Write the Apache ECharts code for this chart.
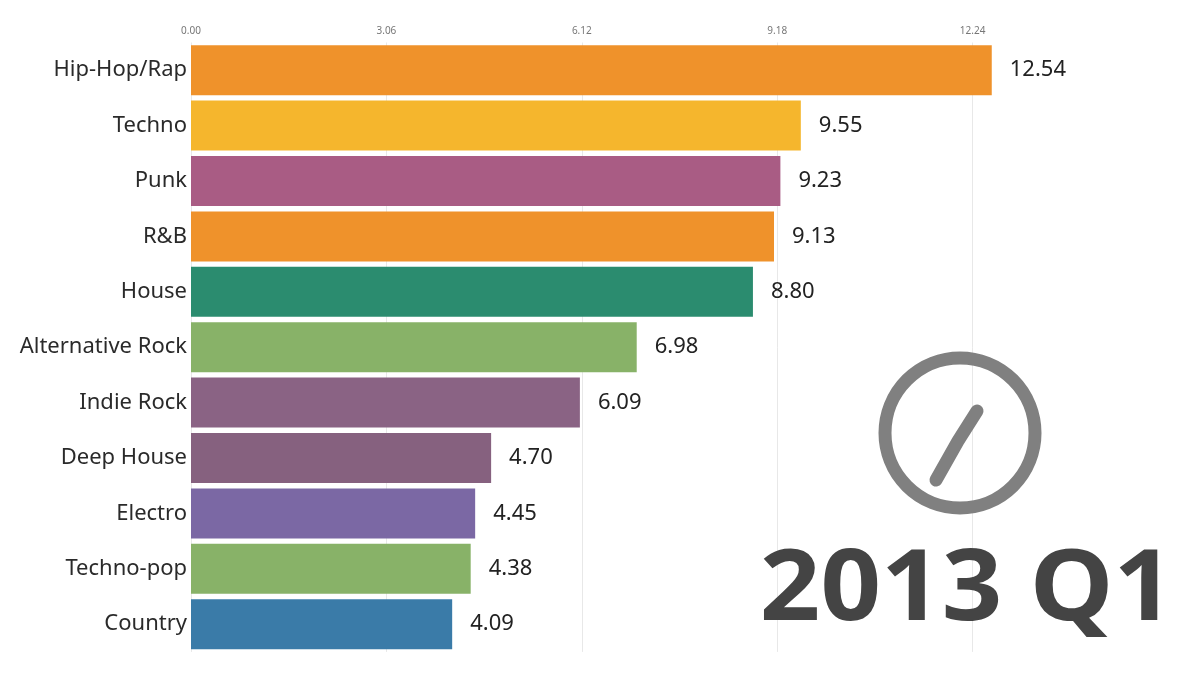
<!DOCTYPE html>
<html>
<head>
<meta charset="utf-8">
<style>html,body{margin:0;padding:0;background:#fff}#c{width:1200px;height:675px}</style>
<script src="https://cdn.jsdelivr.net/npm/echarts@6/dist/echarts.min.js"></script>
</head>
<body>
<div id="c"></div>
<script>
const genres = ['Hip-Hop/Rap','Techno','Punk','R&B','House','Alternative Rock','Indie Rock','Deep House','Electro','Techno-pop','Country'];
const shares = [12.54,9.55,9.23,9.13,8.80,6.98,6.09,4.70,4.45,4.38,4.09];
const barColors = ['#ef922b','#f5b62d','#a95c84','#ef922b','#2b8c6f','#88b268','#8a6384','#86617f','#7b68a4','#88b268','#3a7ba8'];
const tickStep = 3.06;
const axisMax = 15.3;
const periodLabel = '2013 Q1';

const chart = echarts.init(document.getElementById('c'), null, {renderer:'canvas'});
const fam = '"Noto Sans", sans-serif';
chart.setOption({
  animation:false,
  backgroundColor:'#ffffff',
  grid:{left:191,top:42.5,width:977,height:609.4,containLabel:false},
  xAxis:{
    type:'value',position:'top',min:0,max:axisMax,interval:tickStep,
    axisLine:{show:false},axisTick:{show:false},
    axisLabel:{show:true,showMaxLabel:false,margin:6,fontSize:10,color:'#777777',fontFamily:fam,
      formatter:v=>v.toFixed(2)},
    splitLine:{show:true,showMinLine:true,showMaxLine:false,lineStyle:{color:'#e8e8e8',width:1}}
  },
  yAxis:{
    type:'category',inverse:true,data:genres,
    axisLine:{show:false},axisTick:{show:false},
    axisLabel:{margin:4,fontSize:22,color:'#2a2a2a',fontFamily:fam}
  },
  series:[{
    type:'bar',barWidth:50,
    data:shares.map((v,i)=>({value:v,itemStyle:{color:barColors[i]}})),
    label:{show:true,position:'right',distance:18,fontSize:22,color:'#222222',fontFamily:fam,
      formatter:p=>p.value.toFixed(2)}
  }],
  graphic:[
    {type:'circle',shape:{cx:960,cy:433,r:75},style:{fill:'none',stroke:'#808080',lineWidth:13},z:10},
    {type:'polyline',shape:{points:[[936,480],[958,441],[977,411]]},
      style:{fill:'none',stroke:'#808080',lineWidth:13,lineCap:'round',lineJoin:'round'},z:10},
    {type:'text',x:967,y:592,scaleX:1.07,scaleY:1,style:{text:periodLabel,x:0,y:0,align:'center',verticalAlign:'middle',
      font:'bold 99px "Noto Sans", sans-serif',fill:'#444444'},z:10}
  ]
});
</script>
</body>
</html>
